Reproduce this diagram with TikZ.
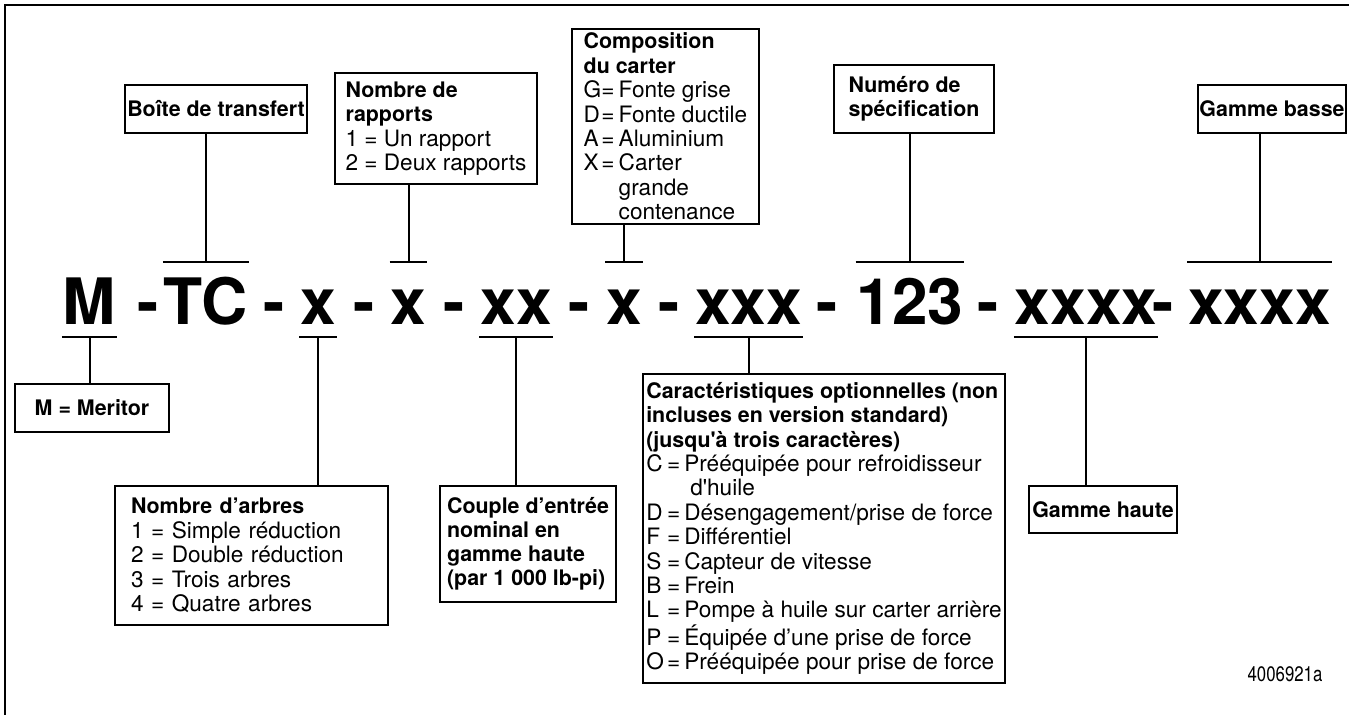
\documentclass[tikz,border=0pt]{standalone}
\usepackage{fontspec}
\setmainfont{TeX Gyre Heros}
\usepackage{graphicx}
\newcommand\hd{\fontsize{10.7}{12}\selectfont\bfseries}
\newcommand\optline[3][19pt]{\mbox{\makebox[#1][l]{#2\hfill=\hspace{2pt}}#3}}
\newcommand\contline[2][19pt]{\mbox{\hspace*{#1}#2}}
\tikzstyle{code}=[inner sep=0pt,anchor=base,text height=31pt,text depth=5.5pt,font=\fontsize{32}{36}\selectfont\bfseries]
\tikzstyle{legend}=[draw=black,line width=1pt,anchor=north west,align=left,inner xsep=1pt,inner ysep=0pt,font=\fontsize{11.3}{12.2}\selectfont]
\tikzstyle{title}=[legend,font=\hd]

\begin{document}
\begin{tikzpicture}[x=0.5pt, y=-0.5pt, line width=1pt]
	\useasboundingbox (0,0) rectangle (1349,715);
	%frame
	\draw (5,715) -- (5,5) -- (1349,5);
	%code
	\foreach \name/\xpos/\txt in {
		cM/89.5/M,
		h1/148/-,
		cTC/206/TC,
		h2/274/-,
		cXa/318/x,
		h3/364/-,
		cXb/408.5/x,
		h4/454/-,
		cXX/516/xx,
		h5/579/-,
		cXc/624/x,
		h6/669/-,
		cXXX/748.5/xxx,
		h7/827.5/-,
		c123/910/123,
		h8/988.5/-,
		cXXXXa/1086/xxxx,
		h9/1163/-,
		cXXXXb/1259.5/xxxx
	}
	\node[code] (\name) at (\xpos,325) {\txt};
	%boxes above
	\node[title,align=center,minimum width=91pt,minimum height=24pt,inner xsep=0pt] (boite) at (124,84) {Boîte de transfert};
	\node[legend,minimum width=101pt,minimum height=55.5pt] (rapports) at (334,72)
	{\hd Nombre de\\ \hd rapports\\ 1 = Un rapport\\ 2 = Deux rapports};
	\node[legend,minimum width=93.5pt,minimum height=97.5pt] (compo) at (571,28)
	{\hd Composition\\ \hd du carter\\
		\optline[17.5pt]{G}{Fonte grise}\\
		\optline[17.5pt]{D}{Fonte ductile}\\
		\optline[17.5pt]{A}{Aluminium}\\
		\optline[17.5pt]{X}{Carter}\\
		\contline[17.5pt]{grande}\\
		\contline[17.5pt]{contenance}};
	\node[title,minimum width=80pt,minimum height=34pt] (numero) at (833,64) {Numéro de\\ spécification};
	\node[title,align=center,minimum width=74pt,minimum height=24pt,inner xsep=0pt] (basse) at (1197,84) {Gamme basse};
	%boxes below
	\node[title,align=center,minimum width=77pt,minimum height=24pt] (meritor) at (14,383) {M = Meritor};
	\node[legend,minimum width=136.5pt,minimum height=69.5pt,inner xsep=8pt,text width=120.5pt] (arbres) at (114,485)
	{{\hd Nombre d’arbres}\\ 1 = Simple réduction\\ 2 = Double réduction\\ 3 = Trois arbres\\ 4 = Quatre arbres};
	\node[title,minimum width=88pt,minimum height=58pt] (couple) at (439,485)
	{Couple d’entrée\\ nominal en\\ gamme haute\\ (par 1~000 lb-pi)};
	\node[legend,minimum width=181pt,minimum height=154.5pt,inner xsep=0.5pt] (caract) at (642,373)
	{\hd Caractéristiques optionnelles (non\\ \hd incluses en version standard)\\ \hd (jusqu\textquotesingle à trois caractères)\\
		\optline{C}{Prééquipée pour refroidisseur}\\
		\contline[22pt]{d\textquotesingle huile}\\
		\optline{D}{Désengagement/prise de force}\\
		\optline{F}{Différentiel}\\
		\optline{S}{Capteur de vitesse}\\
		\optline{B}{Frein}\\
		\optline{L}{Pompe à huile sur carter arrière}\\
		\optline{P}{Équipée d’une prise de force}\\
		\optline{O}{Prééquipée pour prise de force}};
	\node[title,align=center,minimum width=74pt,minimum height=23.5pt,inner xsep=0pt] (haute) at (1028,485) {Gamme haute};
	%figure number
	\node[font=\fontsize{10.5}{12}\selectfont] (fignum) at (1285,674) {\scalebox{0.8}[1]{4006921a}};
	%ticks
	\foreach \n in {cTC,cXb,cXc,c123,cXXXXb}
	\draw (\n.north west) -- (\n.north east);
	\foreach \n in {cM,cXa,cXX,cXXX,cXXXXa}
	\draw (\n.south west) -- (\n.south east);
	%connectors
	\foreach \a/\b in {cTC/boite,cXb/rapports,cXc/compo,c123/numero,cXXXXb/basse}
	\draw (\a.north) -- (\a.north |- \b.south);
	\foreach \a/\b in {cM/meritor,cXa/arbres,cXX/couple,cXXX/caract,cXXXXa/haute}
	\draw (\a.south) -- (\a.south |- \b.north);
\end{tikzpicture}
\end{document}
